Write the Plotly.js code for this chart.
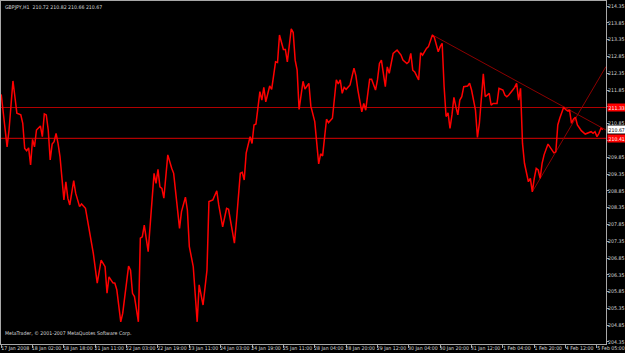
<!DOCTYPE html>
<html>
<head>
<meta charset="utf-8">
<script src="https://cdn.plot.ly/plotly-3.0.1.min.js"></script>
<style>
html,body{margin:0;padding:0;background:#000;}
#chart{width:625px;height:353px;}
</style>
</head>
<body>
<div id="chart"></div>
<script>
// Bar index (H1 bars from 17 Jan 2008) and close price of traced vertices
const barIndex = [0,3,4,6,7,8,10,11,12,13,14,15,16,17,18,20,21,22,23,24,25,26,27,28,29,30,32,33,34,35,37,38,40,41,43,45,46,47,49,51,53,54,55,57,58,59,61,62,65,66,67,68,70,71,72,73,75,78,79,80,81,82,83,85,87,88,91,92,94,95,96,98,100,101,103,105,106,108,110,111,113,115,116,119,120,122,123,124,125,127,128,129,130,132,133,134,135,137,138,140,141,142,144,145,146,148,149,150,151,152,154,155,157,158,160,162,163,164,166,167,169,171,172,173,174,175,176,178,180,181,182,184,185,186,188,189,191,192,193,194,196,197,198,199,200,202,204,205,207,208,209,210,211,213,214,215,217,218,220,221,222,223,224,225,226,227,228,229,230,231,232,233,234,235,236,238,239,240,242,243,244,245,246,247,248,249,250,251,253,254,256,257,258,259,261,262,263,264,265,266,267,268,269,270,271,272,273,274,275,276,277,279,280,282,283,284,285,287,288,289,290,291,292,293,294,295,296,298,299,301,302,303,304,305,306,307];
const closePrice = [211.72,210.16,210.66,212.12,211.65,211.16,211.11,210.86,210.11,210.04,210.13,209.62,210.38,210.16,210.66,210.78,210.46,211.14,211.11,210.66,209.77,210.24,210.31,210.56,210.26,209.87,208.58,209.12,208.63,208.43,209.15,208.78,208.38,208.46,208.33,207.68,207.44,206.99,206.10,206.79,206.59,205.80,206.29,206.11,206.10,205.90,204.95,205.20,206.61,206.49,205.80,205.70,204.95,207.44,207.48,207.83,207.04,209.37,209.07,209.49,208.97,208.92,208.63,209.92,209.52,209.37,207.73,208.23,208.66,208.28,207.19,206.59,204.95,206.05,205.45,206.49,208.53,208.58,208.85,208.43,207.78,208.33,208.30,207.29,207.93,209.37,209.40,209.17,209.97,210.46,210.26,210.81,210.84,211.80,211.55,211.93,211.50,211.97,211.87,212.69,212.67,213.49,213.06,213.06,212.69,213.67,213.56,212.74,212.44,211.27,212.11,211.88,212.05,211.37,210.91,209.65,209.95,209.89,210.98,210.88,211.01,212.15,212.03,212.15,211.75,211.93,211.87,212.00,212.50,212.27,211.85,211.20,211.45,211.25,212.17,212.17,211.85,212.15,212.64,212.74,211.95,212.54,212.35,212.66,212.94,213.04,212.89,212.74,212.64,212.69,212.94,212.44,212.39,212.15,212.96,212.89,213.09,213.14,213.49,213.42,213.24,212.99,213.14,213.24,211.95,211.06,211.17,210.71,211.11,211.63,211.35,211.11,211.55,211.65,211.95,211.97,212.05,211.85,211.25,210.44,210.86,211.55,212.33,211.65,211.70,211.75,211.40,211.45,211.45,211.90,211.85,211.70,211.65,211.70,211.85,211.93,212.05,211.55,211.90,210.26,209.67,209.37,209.12,209.22,208.82,209.22,209.52,209.47,209.22,209.67,209.92,210.24,210.16,209.98,210.01,210.81,211.01,211.34,211.27,211.23,211.25,210.86,210.98,211.04,210.81,210.71,210.64,210.54,210.56,210.61,210.56,210.61,210.46,210.56,210.71,210.67];

const timeTickBars = [0,16,32,48,64,80,96,112,128,144,160,176,192,208,224,240,256,272,288,304];
const timeTickLabels = ["17 Jan 2008","18 Jan 02:00","18 Jan 18:00","21 Jan 11:00","22 Jan 03:00","22 Jan 19:00","23 Jan 11:00","24 Jan 03:00","24 Jan 19:00","25 Jan 11:00","28 Jan 04:00","28 Jan 20:00","29 Jan 12:00","30 Jan 04:00","30 Jan 20:00","31 Jan 12:00","1 Feb 04:00","1 Feb 20:00","4 Feb 12:00","5 Feb 05:00"];
const priceTicks = [214.35,213.85,213.35,212.85,212.35,211.85,211.35,210.85,210.35,209.85,209.35,208.85,208.35,207.85,207.35,206.85,206.35,205.85,205.35,204.85,204.35];

const levelLines = [211.33, 210.41];
const bidPrice = 210.67;
const ohlc = [210.72, 210.82, 210.66, 210.67];
// trend line anchor points [bar, price]
const downTrend = [[220, 213.49], [287, 211.35]];
const upTrend = [[271, 208.82], [283, 210.01]];

const X_RANGE = [-0.1, 308.6];
const Y_RANGE = [204.29, 214.50];
const FONT = "Liberation Sans Narrow, DejaVu Sans Condensed, Arial Narrow, sans-serif";
const FS = 5.2;

function ray(p) {
  const slope = (p[1][1] - p[0][1]) / (p[1][0] - p[0][0]);
  const xe = X_RANGE[1];
  return {type:'line', xref:'x', yref:'y', x0:p[0][0], y0:p[0][1], x1:xe, y1:p[0][1] + slope*(xe - p[0][0]),
          line:{color:'#8c0000', width:1}, layer:'below'};
}

const shapes = [];
levelLines.forEach(v => shapes.push({type:'line', xref:'paper', yref:'y', x0:0, x1:1, y0:v, y1:v,
  line:{color:'#b00000', width:1.2}, layer:'below'}));
shapes.push(ray(downTrend));
shapes.push(ray(upTrend));

const annotations = [
  {xref:'paper', yref:'paper', x:0, y:1, xanchor:'left', yanchor:'top', xshift:2, yshift:-1,
   text:'GBPJPY,H1  ' + ohlc.map(v=>v.toFixed(2)).join(' '), showarrow:false,
   font:{family:FONT, size:FS, color:'#d8d8d8'}},
  {xref:'paper', yref:'paper', x:0, y:0, xanchor:'left', yanchor:'bottom', xshift:2, yshift:5,
   text:'MetaTrader, © 2001-2007 MetaQuotes Software Corp.', showarrow:false,
   font:{family:FONT, size:FS, color:'#d8d8d8'}}
];
levelLines.forEach(v => annotations.push({xref:'paper', yref:'y', x:1, y:v, xanchor:'left', yanchor:'middle',
  xshift:1, text:v.toFixed(2), showarrow:false, bgcolor:'#ff0000', borderpad:0.5,
  font:{family:FONT, size:FS, color:'#ffffff'}}));
annotations.push({xref:'paper', yref:'y', x:1, y:bidPrice, xanchor:'left', yanchor:'middle',
  xshift:1, text:bidPrice.toFixed(2), showarrow:false, bgcolor:'#ffffff', borderpad:0.5,
  font:{family:FONT, size:FS, color:'#000000'}});

// price-axis labels hidden under the line labels are left blank
const priceTickText = priceTicks.map(v =>
  levelLines.some(l => Math.abs(l - v) < 0.1) ? '' : v.toFixed(2));

const trace = {
  type:'scatter', mode:'lines', x:barIndex, y:closePrice,
  line:{color:'#ff0000', width:1.5}, hoverinfo:'skip'
};

const layout = {
  width:625, height:353,
  margin:{l:1, r:19, t:1, b:9, pad:0},
  paper_bgcolor:'#000000', plot_bgcolor:'#000000',
  showlegend:false,
  xaxis:{range:X_RANGE, tickmode:'array', tickvals:timeTickBars, ticktext:timeTickLabels,
    tickangle:0, autotickangles:[0],
    showgrid:false, zeroline:false, showline:true, mirror:true, linecolor:'#a8a8a8', linewidth:1,
    ticks:'outside', ticklen:3, tickcolor:'#a8a8a8', ticklabelshift:14, ticklabelstandoff:-4,
    tickfont:{family:FONT, size:FS, color:'#d8d8d8'}, automargin:false},
  yaxis:{range:Y_RANGE, side:'right', tickmode:'array', tickvals:priceTicks,
    ticktext:priceTickText,
    showgrid:false, zeroline:false, showline:true, mirror:true, linecolor:'#a8a8a8', linewidth:1,
    ticks:'outside', ticklen:2, tickcolor:'#a8a8a8', ticklabelstandoff:-2,
    tickfont:{family:FONT, size:FS, color:'#d8d8d8'}, automargin:false},
  shapes:shapes,
  annotations:annotations
};

Plotly.newPlot('chart', [trace], layout, {staticPlot:true, displayModeBar:false});
</script>
</body>
</html>
